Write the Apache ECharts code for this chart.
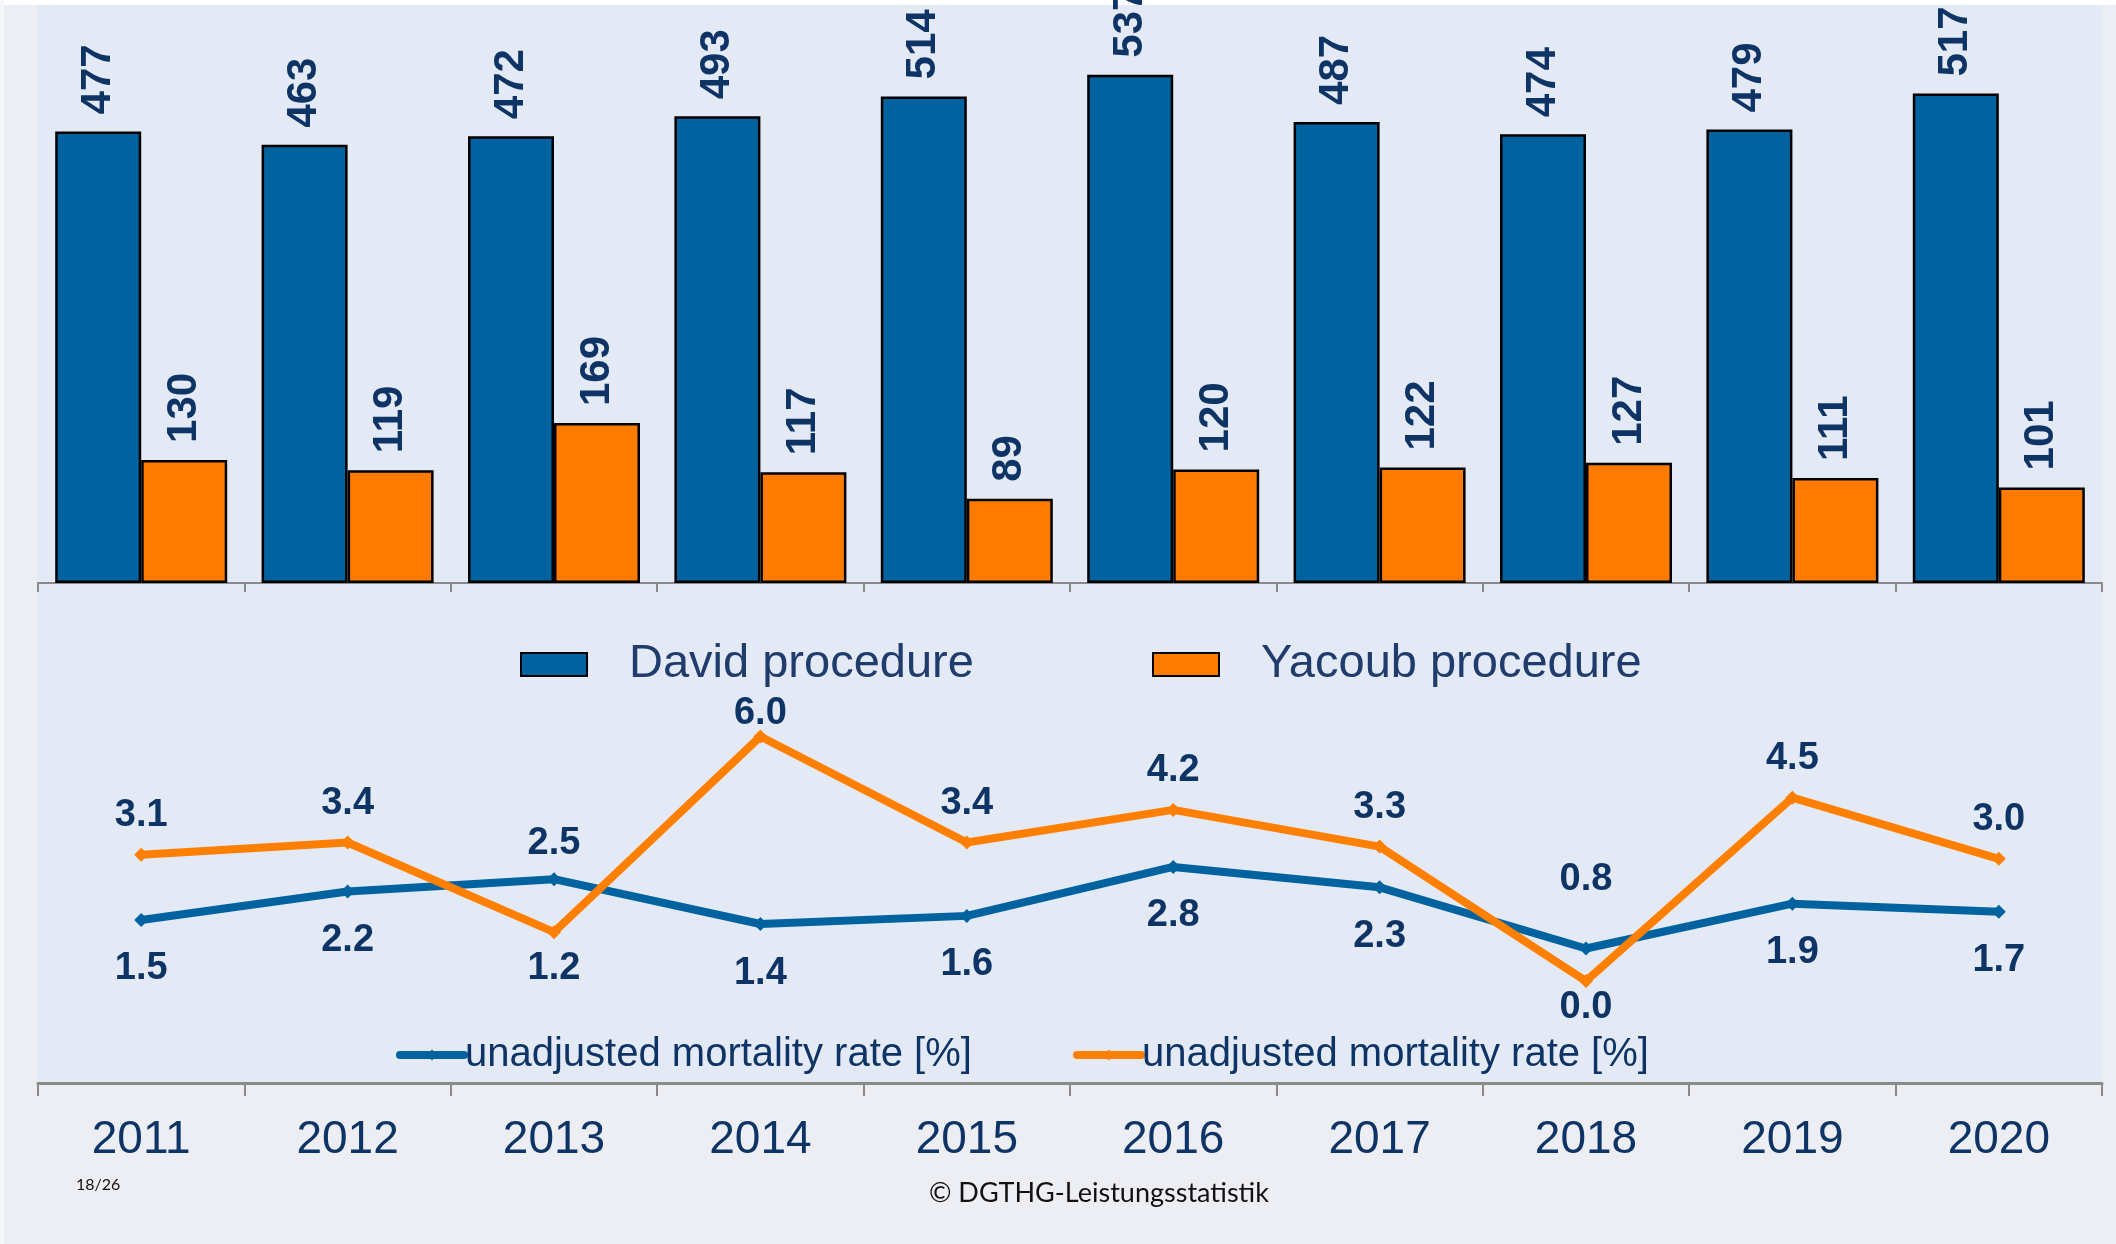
<!DOCTYPE html>
<html>
<head>
<meta charset="utf-8">
<script src="https://cdn.jsdelivr.net/npm/echarts@6/dist/echarts.min.js"></script>
<style>
  html, body { margin: 0; padding: 0; background: #EDEEF3; }
  #chart { width: 2116px; height: 1244px; }
</style>
</head>
<body>
<div id="chart"></div>
<script>
const years = ['2011', '2012', '2013', '2014', '2015', '2016', '2017', '2018', '2019', '2020'];
const davidCount = [477, 463, 472, 493, 514, 537, 487, 474, 479, 517];
const yacoubCount = [130, 119, 169, 117, 89, 120, 122, 127, 111, 101];
const davidMortality = [1.5, 2.2, 2.5, 1.4, 1.6, 2.8, 2.3, 0.8, 1.9, 1.7];
const yacoubMortality = [3.1, 3.4, 1.2, 6.0, 3.4, 4.2, 3.3, 0.0, 4.5, 3.0];
const barNames = ['David procedure', 'Yacoub procedure'];
const lineLegendText = 'unadjusted mortality rate [%]';
const footerLeft = '18/26';
const footerCenter = '© DGTHG-Leistungsstatistik';

const BLUE = '#0063A0';
const ORANGE = '#FF7B00';
const LABEL = '#0E3465';
const FONT = '"Liberation Sans", Arial, sans-serif';

const chart = echarts.init(document.getElementById('chart'), null, { renderer: 'canvas' });

function barLabel() {
  return {
    show: true, position: 'top', rotate: 90, align: 'left', verticalAlign: 'middle',
    distance: 17, fontSize: 42, fontWeight: 'bold', color: LABEL, fontFamily: FONT
  };
}
function lineLabel(pos, dist, dy) {
  return { show: true, position: pos, distance: dist, offset: [0, dy || 0], fontSize: 38, fontWeight: 'bold',
           color: LABEL, fontFamily: FONT, lineHeight: 38, formatter: p => p.value.toFixed(1) };
}
// label placement: the higher of the two lines gets its label above, the lower below
const davidData = davidMortality.map((v, i) => {
  const above = v > yacoubMortality[i];
  let d = above ? 10 : 23;
  if (above && v < 1) d = 43;
  return { value: v, label: lineLabel(above ? 'top' : 'bottom', d) };
});
const yacoubData = yacoubMortality.map((v, i) => {
  const above = v >= davidMortality[i];
  let d = above ? 13 : 10;
  let dy = 0;
  if (above && v >= 6) { d = 0; dy = 3; }
  if (!above && v < 0.5) d = 0;
  return { value: v, label: lineLabel(above ? 'top' : 'bottom', d, dy) };
});

const gridLeft = 38, gridRight = 14;
const AXIS = '#8A8A8A';

const option = {
  animation: false,
  backgroundColor: '#EDEEF3',
  graphic: [
    { type: 'rect', z: -10, shape: { x: 0, y: 0, width: 2116, height: 5 }, style: { fill: '#FFFFFF' } },
    { type: 'rect', z: -10, shape: { x: 0, y: 0, width: 4, height: 1244 }, style: { fill: '#F6F7FA' } },
    { type: 'rect', z: -9, shape: { x: 37, y: 5, width: 2065, height: 1078 }, style: { fill: '#E3E9F5' } },
    { type: 'text', left: 76, top: 1177, style: { text: footerLeft, fontSize: 16, fontFamily: 'Lato, sans-serif', fill: '#111' } },
    { type: 'text', left: 929, top: 1180, style: { text: footerCenter, fontSize: 27, fontFamily: 'Lato, sans-serif', fill: '#111' } }
  ],
  legend: [
    { data: [barNames[0]], left: 515, top: 636, itemWidth: 66, itemHeight: 23, icon: 'rect',
      textStyle: { fontSize: 47, lineHeight: 47, color: '#1F3C6C', fontFamily: FONT, padding: [0, 0, 0, 37] } },
    { data: [barNames[1]], left: 1147, top: 636, itemWidth: 66, itemHeight: 23, icon: 'rect',
      textStyle: { fontSize: 47, lineHeight: 47, color: '#1F3C6C', fontFamily: FONT, padding: [0, 0, 0, 37] } },
    { data: ['David mortality'], left: 391, top: 1030, itemWidth: 64, itemHeight: 14,
      formatter: () => lineLegendText,
      lineStyle: { width: 8, cap: 'round' },
      textStyle: { fontSize: 40, lineHeight: 40, color: LABEL, fontFamily: FONT, padding: [0, 0, 0, -4] } },
    { data: ['Yacoub mortality'], left: 1068, top: 1030, itemWidth: 64, itemHeight: 14,
      formatter: () => lineLegendText,
      lineStyle: { width: 8, cap: 'round' },
      textStyle: { fontSize: 40, lineHeight: 40, color: LABEL, fontFamily: FONT, padding: [0, 0, 0, -4] } }
  ],
  grid: [
    { left: gridLeft, right: gridRight, top: 15, bottom: 1244 - 583 },
    { left: gridLeft, right: gridRight, top: 655, bottom: 1244 - 1083 }
  ],
  xAxis: [
    { type: 'category', gridIndex: 0, data: years,
      axisLine: { onZero: false, lineStyle: { color: AXIS, width: 2 } },
      axisTick: { show: true, length: 9, lineStyle: { color: AXIS, width: 2 } },
      axisLabel: { show: false } },
    { type: 'category', gridIndex: 1, data: years,
      axisLine: { onZero: false, lineStyle: { color: AXIS, width: 3 } },
      axisTick: { show: true, length: 13, lineStyle: { color: AXIS, width: 2 } },
      axisLabel: { fontSize: 46, lineHeight: 46, color: LABEL, fontFamily: FONT, margin: 34 } }
  ],
  yAxis: [
    { type: 'value', gridIndex: 0, min: 0, max: 600, show: false, splitLine: { show: false } },
    { type: 'value', gridIndex: 1, min: -2.5, max: 8, show: false, splitLine: { show: false } }
  ],
  series: [
    { name: barNames[0], type: 'bar', xAxisIndex: 0, yAxisIndex: 0, data: davidCount,
      barWidth: 86, barGap: '0%',
      itemStyle: { color: BLUE, borderColor: '#000', borderWidth: 2.5 }, label: barLabel() },
    { name: barNames[1], type: 'bar', xAxisIndex: 0, yAxisIndex: 0, data: yacoubCount,
      barWidth: 86, barGap: '0%',
      itemStyle: { color: ORANGE, borderColor: '#000', borderWidth: 2.5 }, label: barLabel() },
    { name: 'David mortality', type: 'line', xAxisIndex: 1, yAxisIndex: 1, data: davidData,
      symbol: 'diamond', symbolSize: 14, showAllSymbol: true,
      lineStyle: { color: BLUE, width: 8 }, itemStyle: { color: BLUE } },
    { name: 'Yacoub mortality', type: 'line', xAxisIndex: 1, yAxisIndex: 1, data: yacoubData,
      symbol: 'diamond', symbolSize: 14, showAllSymbol: true,
      lineStyle: { color: '#FF7F00', width: 8 }, itemStyle: { color: '#FF7F00' } }
  ]
};
chart.setOption(option);
</script>
</body>
</html>
